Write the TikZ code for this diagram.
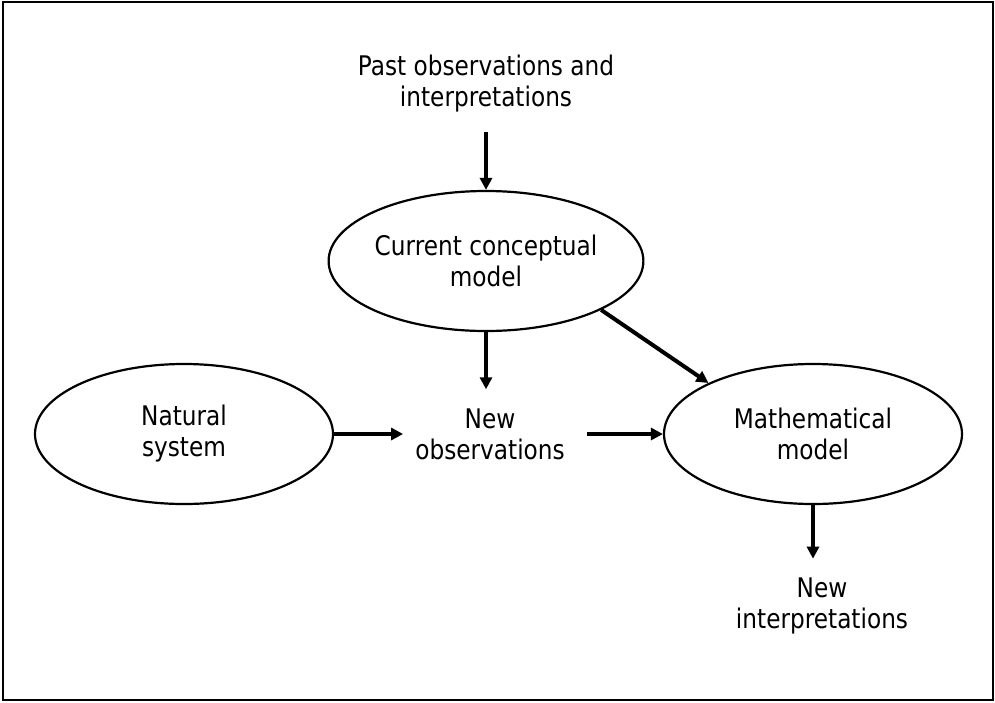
\documentclass[tikz,border=0pt]{standalone}
\usepackage{fontspec}
\setmainfont[FakeStretch=0.86]{DejaVu Sans}
\usepackage{tikz}
\usetikzlibrary{shapes.geometric, arrows.meta}

\tikzset{
  model/.style={ellipse, draw, line width=2.2pt, minimum width=298pt,
                minimum height=140pt, inner sep=0pt, align=center},
  notebox/.style={align=center, inner xsep=12pt, inner ysep=19pt},
  flow/.style={-{Triangle[length=12pt,width=12pt]}, line width=4pt}
}

\begin{document}
\begin{tikzpicture}[x=1pt, y=-1pt, font=\fontsize{27}{31}\selectfont]

    \useasboundingbox (0,0) rectangle (995,702);
    % Outer frame
    \draw[line width=2.5pt] (3,2) rectangle (993,700);

    % Top: what we already know
    \node[notebox] (past) at (486,84) {Past observations and\\interpretations};
    \node[model] (current) at (486,261) {Current conceptual\\model};

    % Middle row
    \node[model] (natural) at (184,434) {Natural\\system};
    \node[notebox] (obs) at (490,434) {New\\observations};
    \node[model] (math) at (813,434) {Mathematical\\model};

    % Bottom: the outcome
    \node[notebox] (interp) at (822,606) {New\\interpretations};

    % Arrows between the parts
    \draw[flow] (past.south) -- (current.north);
    \draw[flow] (current.south) -- (current.south |- obs.north);
    \draw[flow] (natural.east) -- (obs.west);
    \draw[flow, shorten <=10pt] (obs.east) -- (math.west);
    \draw[flow] (current.-23) -- (math.154);
    \draw[flow] (math.south) -- (math.south |- interp.north);

\end{tikzpicture}
\end{document}
